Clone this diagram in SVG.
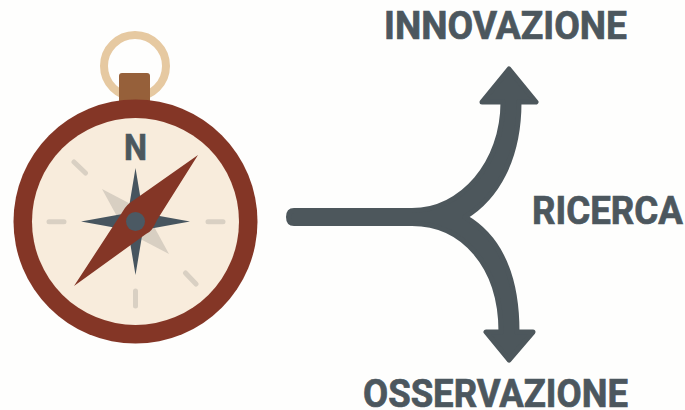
<svg xmlns="http://www.w3.org/2000/svg" width="685" height="410" viewBox="0 0 685 410">
<style>
.lbl{font-family:Roboto,"Liberation Sans",sans-serif;font-weight:700;fill:#4c575e;stroke:#4c575e;stroke-width:.7;font-size:38px}
.tick{stroke:#d9d0c3;stroke-width:5;stroke-linecap:round;fill:none}
</style>
<rect width="685" height="410" fill="#fefefd"/>
<g id="compass">
<circle cx="135" cy="66" r="31" fill="none" stroke="#e6c9a1" stroke-width="8"/>
<path d="M119 102V76Q119 73 122 73H147Q150 73 150 76V102Z" fill="#96603a"/>
<circle cx="135.500" cy="221.500" r="122" fill="#843626"/>
<circle cx="135.500" cy="221.500" r="103.500" fill="#f8ecdc"/>
<path class="tick" d="M74 162L85.500 173M49 221.700H64M208 221.700H223M135.500 291V306M185.500 273L196 284"/>
<text class="lbl" x="124" y="160" textLength="23" lengthAdjust="spacingAndGlyphs" style="font-size:37px">N</text>
<path d="M102 189L146 212L169 254L125 231Z" fill="#d8cfc2"/>
<path d="M135.500 168L143 213L190 221.500L143 230L135.500 275L128 230L81 221.500L128 213Z" fill="#47555f"/>
<path d="M198 155L157 220Q152 232 146 234L74 286L123 211Q127 204 134 200Z" fill="#843626"/>
<circle cx="135.500" cy="221.500" r="9.500" fill="#4b5963"/>
</g>
<g id="connectors">
<path d="M294 210.500H412C462 210.500 503 163 503 102H482L509 69L536 102H519C519 160 496 198 465 217C496 235 517 270 517 332H533L509 360L486 332H501C501 265 462 223.500 412 223.500H294Q288.500 223.500 288.500 217Q288.500 210.500 294 210.500Z" fill="#4d575c" stroke="#4d575c" stroke-width="5" stroke-linejoin="round"/>
</g>
<g id="innovazione"><text class="lbl" x="384" y="39" textLength="243" lengthAdjust="spacingAndGlyphs">INNOVAZIONE</text></g>
<g id="ricerca"><text class="lbl" x="532" y="224" textLength="151" lengthAdjust="spacingAndGlyphs">RICERCA</text></g>
<g id="osservazione"><text class="lbl" x="363" y="407" textLength="265" lengthAdjust="spacingAndGlyphs">OSSERVAZIONE</text></g>
</svg>
